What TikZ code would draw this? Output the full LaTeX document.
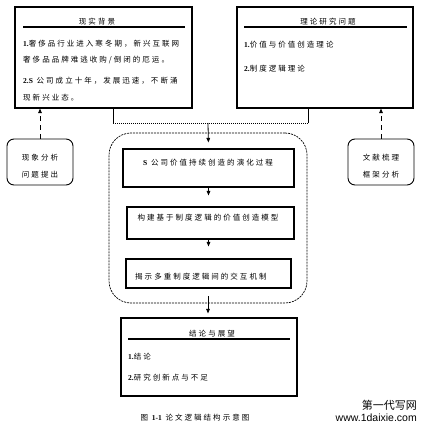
\documentclass[tikz,border=0pt]{standalone}
\usepackage{fontspec}
\setmainfont{Liberation Serif}
\newfontfamily\cjk[LetterSpace=27]{Noto Sans CJK SC}
\newfontfamily\wmcjk{Noto Sans CJK SC}
\newfontfamily\wmlat{Liberation Sans}
\usetikzlibrary{arrows.meta}
\tikzset{
  box/.style={draw, line width=1.1pt, inner sep=0pt},
  rbox/.style={draw, line width=0.9pt, rounded corners=7pt, inner sep=0pt},
  dbox/.style={draw, line width=0.7pt, dash pattern=on 2pt off 1pt, rounded corners=22pt, inner sep=0pt},
  ctxt/.style={font=\cjk\fontsize{7.5}{9}\selectfont, inner sep=0pt},
  ltxt/.style={ctxt, anchor=west},
  uline/.style={line width=1.3pt},
  conn/.style={line width=0.8pt},
  dotline/.style={line width=0.8pt, dash pattern=on 1pt off 1pt},
  arr/.style={-{Triangle[length=4.5pt,width=3.6pt]}, line width=0.8pt},
  darr/.style={arr, dash pattern=on 5pt off 4pt},
}
\begin{document}
\begin{tikzpicture}[x=1pt,y=-1pt]
\useasboundingbox (0,0) rectangle (429,430);
% main boxes
\node[box, minimum width=177pt, minimum height=101pt] (b1) at (103.5,57.5) {};
\node[box, minimum width=176pt, minimum height=101pt] (b2) at (325,57.5) {};
\node[rbox, minimum width=66pt, minimum height=46pt] (lb) at (40,162) {};
\node[rbox, minimum width=66pt, minimum height=46pt] (rb) at (381,162) {};
\node[dbox, minimum width=198pt, minimum height=170pt] (db) at (208,218) {};
\node[box, minimum width=171pt, minimum height=38pt] (s) at (208.5,168) {};
\node[box, minimum width=167pt, minimum height=32pt] (m) at (210.5,223) {};
\node[box, minimum width=165pt, minimum height=29pt] (k) at (208.5,273.5) {};
\node[box, minimum width=176pt, minimum height=78pt] (c) at (209,357) {};
% underlines
\coordinate (u1a) at (23,27); \coordinate (u1b) at (185,27);
\coordinate (u2a) at (244,27); \coordinate (u2b) at (407,27);
\coordinate (u3a) at (128,339); \coordinate (u3b) at (290,339);
\draw[uline] (u1a) -- (u1b);
\draw[uline] (u2a) -- (u2b);
\draw[uline] (u3a) -- (u3b);
% texts box 1
\node[ctxt] (t1) at (97,22) {现实背景};
\node[ltxt] (t1a) at (23,44) {{\rmfamily\bfseries 1.}奢侈品行业进入寒冬期，新兴互联网};
\node[ltxt] (t1b) at (23,60) {奢侈品品牌难逃收购/倒闭的厄运。};
\node[ltxt] (t1c) at (23,81) {{\rmfamily\bfseries 2.S} 公司成立十年，发展迅速，不断涌};
\node[ltxt] (t1d) at (23,98) {现新兴业态。};
% texts box 2
\node[ctxt] (t2) at (328,22) {理论研究问题};
\node[ltxt] (t2a) at (244,45) {{\rmfamily\bfseries 1.}价值与价值创造理论};
\node[ltxt] (t2b) at (244,69) {{\rmfamily\bfseries 2.}制度逻辑理论};
% small boxes
\node[ctxt] (la) at (40,158) {现象分析};
\node[ctxt] (lbb) at (40,175) {问题提出};
\node[ctxt] (ra) at (381,158) {文献梳理};
\node[ctxt] (rbb) at (381,175) {框架分析};
% inner boxes
\node[ctxt] (st) at (208,163) {{\rmfamily\bfseries S} 公司价值持续创造的演化过程};
\node[ctxt] (mt) at (208,218) {构建基于制度逻辑的价值创造模型};
\node[ltxt] (kt) at (135,277) {揭示多重制度逻辑间的交互机制};
% conclusion
\node[ctxt] (ct) at (212,334) {结论与展望};
\node[ltxt] (ca) at (128,357) {{\rmfamily\bfseries 1.}结论};
\node[ltxt] (cb) at (128,378) {{\rmfamily\bfseries 2.}研究创新点与不足};
% caption and watermark
\node[ctxt] (cap) at (195,418) {图 {\rmfamily\bfseries 1-1} 论文逻辑结构示意图};
\node[inner sep=0pt, anchor=east, font=\wmcjk\fontsize{11}{12}\selectfont] (wm1) at (417,405) {第一代写网};
\node[inner sep=0pt, anchor=east, font=\wmlat\fontsize{10.5}{12}\selectfont] (wm2) at (417,418) {www.1daixie.com};
% connectors
\coordinate (j1) at (113,123);
\coordinate (j2) at (308,123);
\coordinate (j3) at (208,123);
\draw[conn] (b1.south -| j1) -- (j1);
\draw[conn] (b2.south -| j2) -- (j2);
\draw[dotline] (j1) -- (j2);
\draw[arr, shorten >=6pt] (j3) -- (s.north);
\draw[arr, shorten >=11pt] (s.south) -- (m.north -| s.south);
\draw[arr, shorten >=12pt] (m.south -| s.south) -- (k.north -| s.south);
\draw[arr, shorten <=-7pt, shorten >=4pt] (db.south) -- (c.north -| db.south);
\draw[darr] (lb.north) -- (lb.north |- b1.south);
\draw[darr] (rb.north) -- (rb.north |- b2.south);
\end{tikzpicture}
\end{document}
